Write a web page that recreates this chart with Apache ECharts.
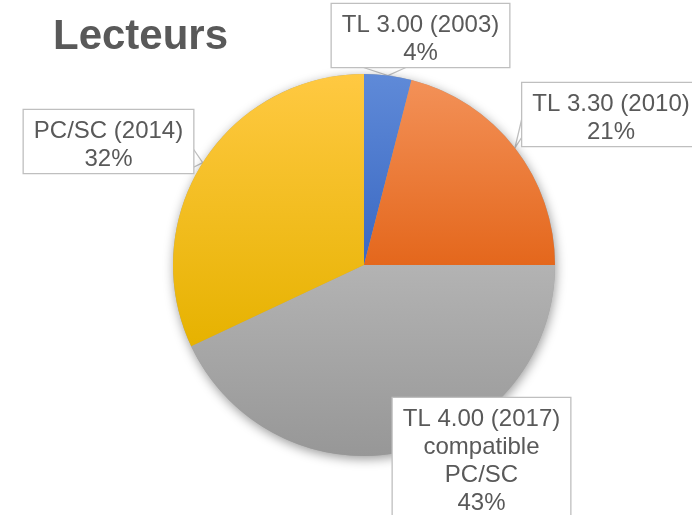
<!DOCTYPE html>
<html>
<head>
<meta charset="utf-8">
<script src="https://cdn.jsdelivr.net/npm/echarts@6/dist/echarts.min.js"></script>
<style>
  html, body { margin: 0; padding: 0; background: #ffffff; }
  #chart { width: 692px; height: 515px; }
</style>
</head>
<body>
<div id="chart"></div>
<script>
// Reader generations and their share of the installed base (%)
const categories = ['TL 3.00 (2003)', 'TL 3.30 (2010)', 'TL 4.00 (2017)\ncompatible\nPC/SC', 'PC/SC (2014)'];
const shares = [4, 21, 43, 32];
const chartTitle = 'Lecteurs';

// light-to-dark fill for each slice
const sliceColors = [
  ['#5F8AD8', '#3A68C2'],
  ['#F39158', '#E4671C'],
  ['#B3B3B3', '#979797'],
  ['#FFC942', '#E6B200']
];

const CX = 364, CY = 265, R = 191;
const FONT = '"Liberation Sans", Arial, sans-serif';
const TEXT = '#595959';

// callout boxes: centre x / top y of each box, and the two base points of its pointer
const boxes = [
  { x: 420.5, y: 4,   base: [[362, 67], [407, 67]] },
  { x: 611,   y: 83,  base: [[522, 118], [522, 137]] },
  { x: 481.5, y: 398, base: null },
  { x: 108.5, y: 110, base: [[192, 147], [192, 168]] }
];

const total = shares.reduce((a, b) => a + b, 0);

// point on the rim at the middle of slice i (start at 12 o'clock, clockwise)
function rimPoint(i) {
  let before = 0;
  for (let k = 0; k < i; k++) before += shares[k];
  const a = (before + shares[i] / 2) / total * Math.PI * 2;
  return [CX + R * Math.sin(a), CY - R * Math.cos(a)];
}

const pieData = categories.map((name, i) => ({
  name: name,
  value: shares[i],
  itemStyle: {
    color: new echarts.graphic.LinearGradient(0, 0, 0, 1, [
      { offset: 0, color: sliceColors[i][0] },
      { offset: 1, color: sliceColors[i][1] }
    ])
  },
  labelLine: { show: !!boxes[i].base }
}));

const chart = echarts.init(document.getElementById('chart'), null, { renderer: 'canvas' });

chart.setOption({
  animation: false,
  backgroundColor: '#ffffff',
  title: {
    text: chartTitle,
    left: 48,
    top: 11,
    textStyle: { fontFamily: FONT, fontSize: 42, fontWeight: 'bold', color: TEXT }
  },
  series: [
    {
      // soft shadow disc under the pie
      type: 'pie',
      silent: true,
      center: [CX, CY],
      radius: R,
      startAngle: 90,
      label: { show: false },
      labelLine: { show: false },
      data: [{
        value: total,
        itemStyle: {
          color: '#a0a0a0',
          shadowBlur: 11,
          shadowOffsetX: 1,
          shadowOffsetY: 3,
          shadowColor: 'rgba(0,0,0,0.4)'
        }
      }]
    },
    {
      type: 'pie',
      center: [CX, CY],
      radius: R,
      startAngle: 90,
      clockwise: true,
      avoidLabelOverlap: false,
      minShowLabelAngle: 0,
      itemStyle: { borderWidth: 0 },
      label: {
        show: true,
        position: 'outside',
        formatter: p => p.name + '\n' + shares[p.dataIndex] + '%',
        fontFamily: FONT,
        fontSize: 24,
        lineHeight: 28,
        color: TEXT,
        align: 'center',
        backgroundColor: '#ffffff',
        borderColor: '#BFBFBF',
        borderWidth: 1.3,
        padding: [7, 10, 0, 10]
      },
      labelLine: {
        show: true,
        lineStyle: { color: '#BFBFBF', width: 1.3 }
      },
      labelLayout: function (params) {
        const b = boxes[params.dataIndex];
        const out = { x: b.x, y: b.y, align: 'center', verticalAlign: 'top' };
        if (b.base) {
          out.labelLinePoints = [b.base[0], rimPoint(params.dataIndex), b.base[1]];
        }
        return out;
      },
      data: pieData
    }
  ]
});
</script>
</body>
</html>
